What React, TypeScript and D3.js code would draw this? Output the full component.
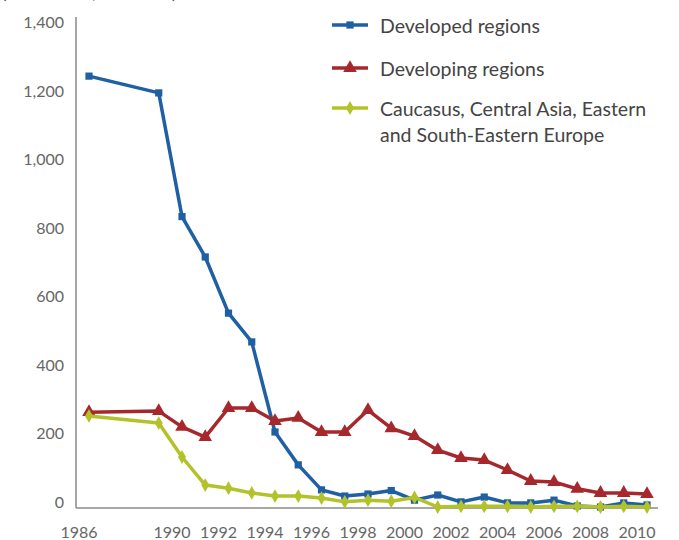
import React from "react";
import * as d3 from "d3";

const years = [1986, 1989, 1990, 1991, 1992, 1993, 1994, 1995, 1996, 1997, 1998, 1999, 2000, 2001, 2002, 2003, 2004, 2005, 2006, 2007, 2008, 2009, 2010];
const developed = [1258, 1209, 848, 730, 566, 482, 219, 123, 50, 32, 38, 48, 20, 35, 15, 29, 12, 12, 20, 3, 0, 12, 6];
const developing = [277, 280, 234, 204, 289, 289, 251, 260, 219, 219, 283, 230, 207, 166, 143, 137, 108, 76, 73, 53, 41, 41, 38];
const caucasus = [266, 245, 146, 64, 55, 41, 32, 32, 26, 15, 20, 17, 28, 0, 2, 2, 2, 0, 2, 2, 0, 2, 0];

const yTicks = [0, 200, 400, 600, 800, 1000, 1200, 1400];
const xTickYears = [1986, 1990, 1992, 1994, 1996, 1998, 2000, 2002, 2004, 2006, 2008, 2010];

const seriesNames = ["Developed regions", "Developing regions", "Caucasus, Central Asia, Eastern|and South-Eastern Europe"];
const seriesColors = ["#1f5fa3", "#a6282c", "#b3c22b"];
const seriesMarkers = ["square", "triangle", "diamond"];

const W = 679;
const H = 540;
const FONT = "Lato, 'Open Sans', sans-serif";

function markerPath(kind: string, size: number) {
  const sym = kind === "square" ? d3.symbolSquare : kind === "triangle" ? d3.symbolTriangle : d3.symbolDiamond;
  return d3.symbol().type(sym).size(size)() as string;
}

export default function App() {
  const x = d3.scaleLinear().domain([1986, 2010]).range([89, 647]);
  const y = d3.scaleLinear().domain([0, 1400]).range([507, 27.5]);
  const data = [developed, developing, caucasus];
  const line = d3
    .line<number>()
    .x((_, i) => x(years[i]))
    .y((d) => y(d));
  const sizes = [52, 80, 55];

  return (
    <svg width={W} height={H} style={{ position: "absolute", left: 0, top: 0, background: "#fff" }} fontFamily={FONT}>
      <text x={2} y={-1} fontSize={16} fill="#3b3a8c">(ODP tonnes, thousands)</text>
      {/* axes */}
      <line x1={76} x2={76} y1={17} y2={508} stroke="#8a8a8a" strokeWidth={1.5} />
      <line x1={76} x2={658} y1={508} y2={508} stroke="#8a8a8a" strokeWidth={1.5} />
      {yTicks.map((v) => (
        <text key={v} x={64} y={y(v) - 6} textAnchor="end" dominantBaseline="central" fontSize={16} fill="#666">
          {d3.format(",")(v)}
        </text>
      ))}
      {xTickYears.map((yr) => (
        <text key={yr} x={x(yr) - 10} y={531} textAnchor="middle" dominantBaseline="central" fontSize={16} fill="#666">
          {yr}
        </text>
      ))}
      {data.map((vals, si) => (
        <g key={si}>
          <path d={line(vals) as string} fill="none" stroke={seriesColors[si]} strokeWidth={3.5} strokeLinejoin="round" />
          {vals.map((v, i) => (
            <path
              key={i}
              d={markerPath(seriesMarkers[si], sizes[si])}
              transform={`translate(${x(years[i])},${y(v)})`}
              fill={seriesColors[si]}
            />
          ))}
        </g>
      ))}
      {/* legend */}
      {seriesNames.map((name, si) => {
        const ly = [25, 68, 108][si];
        const lines = name.split("|");
        return (
          <g key={si}>
            <line x1={332} x2={368} y1={ly} y2={ly} stroke={seriesColors[si]} strokeWidth={3.5} />
            <path d={markerPath(seriesMarkers[si], sizes[si])} transform={`translate(350,${ly})`} fill={seriesColors[si]} />
            {lines.map((t, li) => (
              <text key={li} x={380} y={ly + li * 26} dominantBaseline="central" fontSize={19.5} fill="#444">
                {t}
              </text>
            ))}
          </g>
        );
      })}
    </svg>
  );
}
